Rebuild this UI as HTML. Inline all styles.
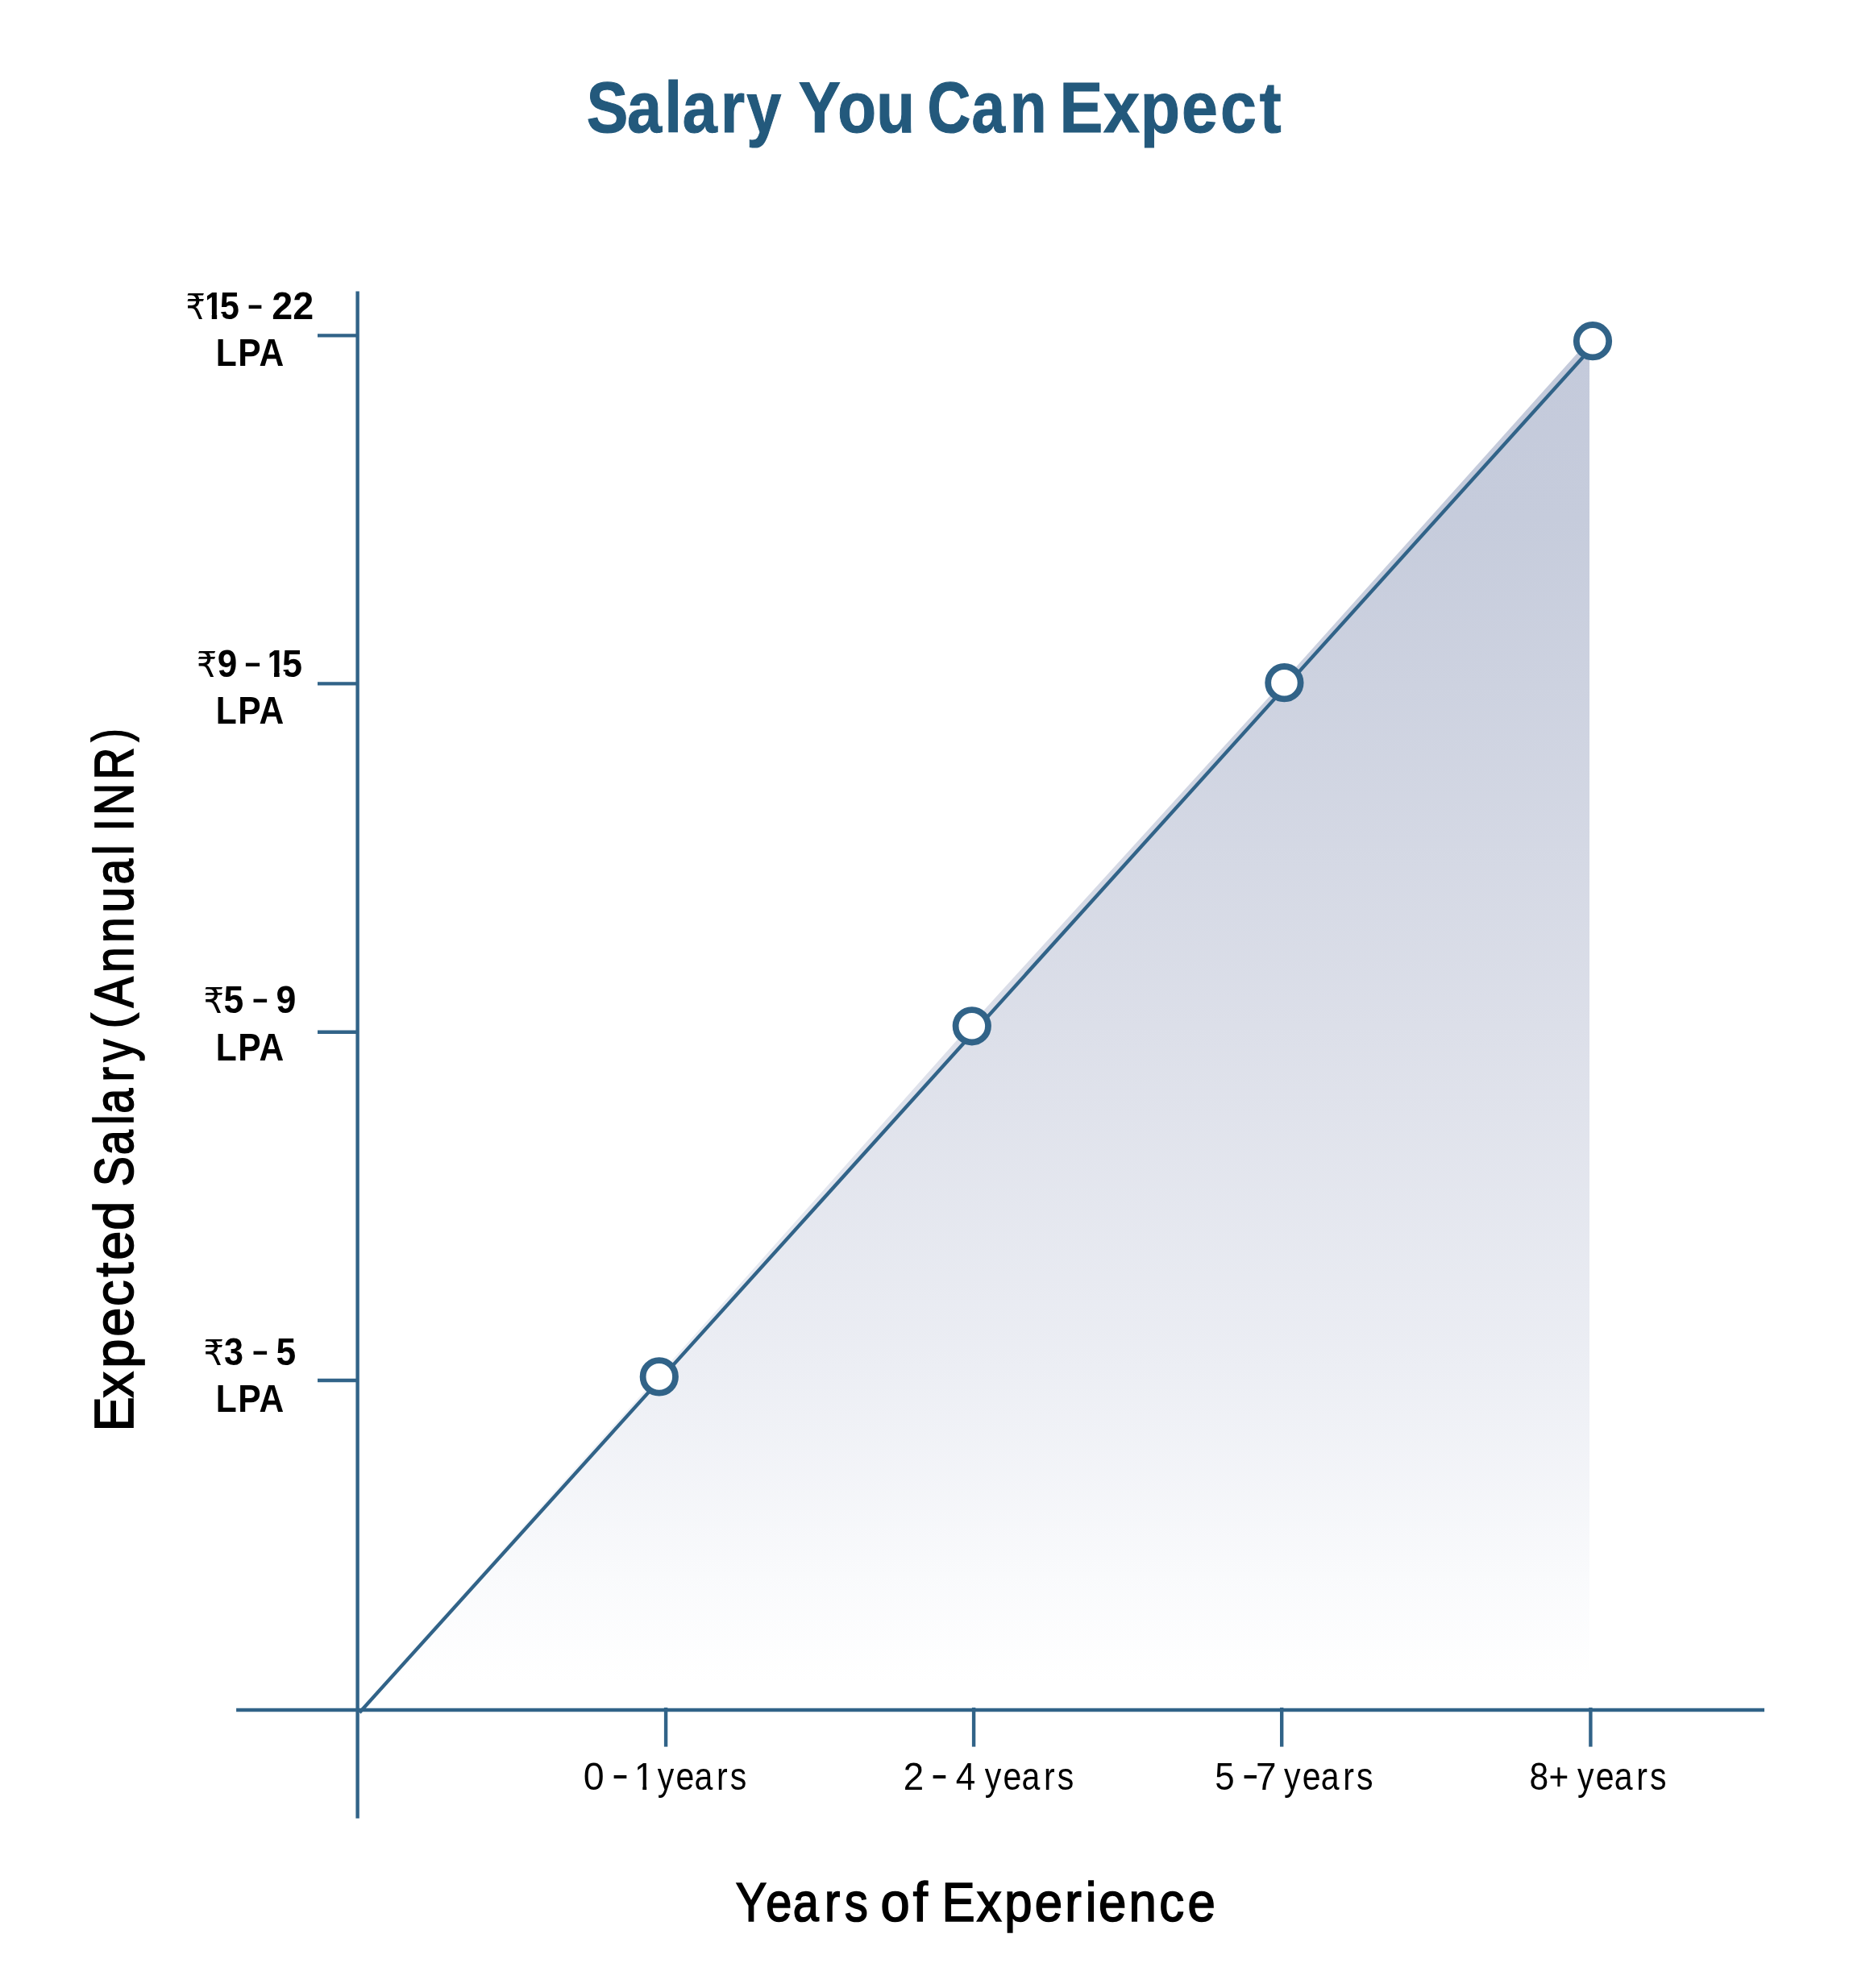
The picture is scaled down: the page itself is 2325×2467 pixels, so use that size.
<!DOCTYPE html>
<html lang="en">
<head>
<meta charset="utf-8">
<title>Salary You Can Expect</title>
<style>
  html, body { margin: 0; padding: 0; background: #ffffff; }
  body { width: 2325px; height: 2467px; overflow: hidden; }
  svg { display: block; will-change: transform; }
  text { font-family: "Liberation Sans", "DejaVu Sans", sans-serif; }
  .title { font-size: 88.6px; font-weight: 700; fill: #23597c; stroke: #23597c; stroke-width: 1.1px; }
  .ylab  { font-size: 48.7px; font-weight: 700; fill: #000000; stroke: none; stroke-width: 0.0px; }
  .rupee { font-family: "DejaVu Sans", "Liberation Sans", sans-serif; font-size: 44px; font-weight: 400; fill: #000000; }
  .ydash { font-size: 56px; font-weight: 400; fill: #000000; }
  .xdash { font-size: 52px; font-weight: 400; fill: #000000; }
  .xlab  { font-size: 49.0px; font-weight: 400; fill: #000000; }
  .axt   { font-size: 68.2px; font-weight: 400; fill: #000000; stroke: #000000; stroke-width: 1.7px; }
  .par   { font-size: 63.4px; }
  .ln    { stroke: #316388; stroke-width: 4.4; fill: none; }
</style>
</head>
<body>
<svg width="2325" height="2467" viewBox="0 0 2325 2467">
  <defs>
    <linearGradient id="areaFill" x1="0" y1="425" x2="0" y2="2122" gradientUnits="userSpaceOnUse">
      <stop offset="0" stop-color="#c4cadb"/>
      <stop offset="0.13" stop-color="#c6ccdc"/>
      <stop offset="0.25" stop-color="#cdd2e0"/>
      <stop offset="0.5" stop-color="#dcdfe9"/>
      <stop offset="0.75" stop-color="#eceef4"/>
      <stop offset="0.9" stop-color="#f9fafc"/>
      <stop offset="0.98" stop-color="#ffffff"/>
      <stop offset="1" stop-color="#ffffff"/>
    </linearGradient>
  </defs>
  <rect x="0" y="0" width="2325" height="2467" fill="#ffffff"/>

  <!-- Title -->
  <g>
    <text class="title" transform="translate(727.83 164.4) scale(0.8719 1)" x="0.00 57.64 110.82 136.27 190.48 227.55">Salary</text>
    <text class="title" transform="translate(990.81 164.4) scale(0.8834 1)" x="0.00 54.83 109.17">You</text>
    <text class="title" transform="translate(1150.54 164.4) scale(0.8408 1)" x="0.00 65.25 121.92">Can</text>
    <text class="title" transform="translate(1314.48 164.4) scale(0.9104 1)" x="0.00 59.99 110.16 166.36 219.03 272.68">Expect</text>
  </g>

  <!-- Area fill -->
  <polygon points="444.5,2122 815.6,1708.4 1202.8,1273.3 1590.4,847.2 1972,421.5 1972,2122" fill="url(#areaFill)"/>

  <!-- Axes -->
  <line class="ln" x1="443.6" y1="361.6" x2="443.6" y2="2256.6"/>
  <line class="ln" x1="293.1" y1="2122" x2="2189" y2="2122"/>

  <!-- Y ticks -->
  <line class="ln" x1="394" y1="416.4" x2="443.6" y2="416.4"/>
  <line class="ln" x1="394" y1="848.4" x2="443.6" y2="848.4"/>
  <line class="ln" x1="394" y1="1280.7" x2="443.6" y2="1280.7"/>
  <line class="ln" x1="394" y1="1713" x2="443.6" y2="1713"/>

  <!-- X ticks -->
  <line class="ln" x1="826.1" y1="2119" x2="826.1" y2="2167.6"/>
  <line class="ln" x1="1208.1" y1="2119" x2="1208.1" y2="2167.6"/>
  <line class="ln" x1="1590.2" y1="2119" x2="1590.2" y2="2167.6"/>
  <line class="ln" x1="1973.4" y1="2119" x2="1973.4" y2="2167.6"/>

  <!-- Data line -->
  <line class="ln" x1="446" y1="2125.2" x2="1982" y2="423.2"/>

  <!-- Data points -->
  <g fill="#ffffff" stroke="#316388" stroke-width="7.8">
    <circle cx="817.8" cy="1708.4" r="20.2"/>
    <circle cx="1205.8" cy="1273.3" r="20.2"/>
    <circle cx="1593.4" cy="847.2" r="20.2"/>
    <circle cx="1976" cy="423.2" r="20.2"/>
  </g>

  <!-- Y axis labels -->
  <g><text class="rupee" x="230.62" y="395.8" textLength="24.40" lengthAdjust="spacingAndGlyphs">₹</text><text class="ylab" transform="translate(252.81 395.8) scale(0.8914 1)" x="0 22.38">15</text><rect x="254.00" y="357.81" width="3.00" height="41.40" fill="#ffffff"/><rect x="256.50" y="389.23" width="6.24" height="8.17" fill="#ffffff"/><rect x="269.15" y="389.23" width="7.05" height="8.17" fill="#ffffff"/> <text class="ydash" x="305.81" y="395.8" textLength="21.53" lengthAdjust="spacingAndGlyphs">-</text> <text class="ylab" x="337.25" y="395.8" textLength="51.88" lengthAdjust="spacingAndGlyphs">22</text>
    <text class="ylab" transform="translate(267.73 454.0) scale(0.8742 1)" x="0.00 31.60 61.58">LPA</text></g>
  <g><text class="rupee" x="243.89" y="839.9" textLength="25.14" lengthAdjust="spacingAndGlyphs">₹</text><text class="ylab" x="269.68" y="839.9" textLength="24.52" lengthAdjust="spacingAndGlyphs">9</text> <text class="ydash" x="301.70" y="839.9" textLength="23.56" lengthAdjust="spacingAndGlyphs">-</text> <text class="ylab" transform="translate(329.72 839.9) scale(0.9244 1)" x="0 21.85">15</text><rect x="331.50" y="801.91" width="3.00" height="41.40" fill="#ffffff"/><rect x="334.00" y="833.33" width="6.02" height="8.17" fill="#ffffff"/><rect x="346.65" y="833.33" width="7.30" height="8.17" fill="#ffffff"/>
    <text class="ylab" transform="translate(267.73 898.1) scale(0.8742 1)" x="0.00 31.60 61.58">LPA</text></g>
  <g><text class="rupee" x="252.61" y="1257.4" textLength="25.53" lengthAdjust="spacingAndGlyphs">₹</text><text class="ylab" x="277.43" y="1257.4" textLength="24.76" lengthAdjust="spacingAndGlyphs">5</text> <text class="ydash" x="311.42" y="1257.4" textLength="22.64" lengthAdjust="spacingAndGlyphs">-</text> <text class="ylab" x="342.43" y="1257.4" textLength="24.86" lengthAdjust="spacingAndGlyphs">9</text>
    <text class="ylab" transform="translate(267.73 1316.1) scale(0.8742 1)" x="0.00 31.60 61.58">LPA</text></g>
  <g><text class="rupee" x="252.61" y="1693.5" textLength="25.53" lengthAdjust="spacingAndGlyphs">₹</text><text class="ylab" x="277.98" y="1693.5" textLength="23.96" lengthAdjust="spacingAndGlyphs">3</text> <text class="ydash" x="311.42" y="1693.5" textLength="22.64" lengthAdjust="spacingAndGlyphs">-</text> <text class="ylab" x="342.40" y="1693.5" textLength="24.67" lengthAdjust="spacingAndGlyphs">5</text>
    <text class="ylab" transform="translate(267.73 1752.1) scale(0.8742 1)" x="0.00 31.60 61.58">LPA</text></g>

  <!-- X axis labels -->
  <g><text class="xlab" x="723.71" y="2220.9" textLength="25.87" lengthAdjust="spacingAndGlyphs">0</text> <text class="xdash" x="758.69" y="2219.1" textLength="21.49" lengthAdjust="spacingAndGlyphs">-</text> <clipPath id="cp_x0c"><polygon points="791.2,2184.2 802.2,2184.2 802.2,2221.9 797.3,2221.9 797.3,2216.7 791.2,2216.7"/></clipPath><text clip-path="url(#cp_x0c)" class="xlab" x="785.88" y="2220.9" textLength="25.89" lengthAdjust="spacingAndGlyphs">1</text> <text class="xlab" transform="translate(815.73 2220.9) scale(0.8372 1)" x="0.00 27.29 54.63 87.45 107.59">years</text></g>
  <g><text class="xlab" x="1120.78" y="2220.9" textLength="25.46" lengthAdjust="spacingAndGlyphs">2</text> <text class="xdash" x="1154.81" y="2219.1" textLength="21.43" lengthAdjust="spacingAndGlyphs">-</text> <text class="xlab" x="1185.72" y="2220.9" textLength="24.50" lengthAdjust="spacingAndGlyphs">4</text> <text class="xlab" transform="translate(1221.73 2220.9) scale(0.8372 1)" x="0.00 27.29 54.63 87.45 107.59">years</text></g>
  <g><text class="xlab" x="1507.21" y="2220.9" textLength="24.42" lengthAdjust="spacingAndGlyphs">5</text> <text class="xdash" x="1540.86" y="2219.1" textLength="21.05" lengthAdjust="spacingAndGlyphs">-</text><text class="xlab" x="1558.06" y="2220.9" textLength="25.55" lengthAdjust="spacingAndGlyphs">7</text> <text class="xlab" transform="translate(1592.93 2220.9) scale(0.8372 1)" x="0.00 27.29 54.63 87.45 107.59">years</text></g>
  <g><text class="xlab" x="1897.44" y="2220.9" textLength="23.71" lengthAdjust="spacingAndGlyphs">8</text><text class="xlab" x="1921.60" y="2220.9" textLength="24.81" lengthAdjust="spacingAndGlyphs">+</text> <text class="xlab" transform="translate(1957.03 2220.9) scale(0.8372 1)" x="0.00 27.29 54.63 87.45 107.59">years</text></g>

  <!-- X axis title -->
  <g>
    <text class="axt" transform="translate(912.81 2383.9) scale(0.8457 1)" x="0.00 44.28 83.80 130.41 159.93">Years</text>
    <text class="axt" transform="translate(1092.55 2383.9) scale(0.9546 1)" x="0.00 42.06">of</text>
    <text class="axt" transform="translate(1168.62 2383.9) scale(0.9047 1)" x="0.00 47.69 85.70 127.37 168.75 196.96 214.92 256.20 298.01 337.00">Experience</text>
  </g>

  <!-- Y axis title -->
  <g transform="translate(165,1770.3) rotate(-90)">
    <text class="axt" transform="translate(-6.15 0.0) scale(0.9531 1)" x="0.00 43.99 82.56 123.47 163.17 201.14 223.25 262.09">Expected</text>
    <text class="axt" transform="translate(297.94 0.0) scale(0.8166 1)" x="0.00 47.81 93.69 110.87 159.07 189.71">Salary</text>
    <text class="axt par" x="494.17" y="-5.8" textLength="18.99" lengthAdjust="spacingAndGlyphs">(</text><text class="axt" transform="translate(520.11 0.0) scale(0.8350 1)" x="0.00 51.81 96.18 140.83 182.92 226.70">Annual</text>
    <text class="axt" transform="translate(738.82 0.0) scale(0.8111 1)" x="0.00 24.29 78.94">INR</text><text class="axt par" x="850.15" y="-5.8" textLength="15.97" lengthAdjust="spacingAndGlyphs">)</text>
  </g>
</svg>
</body>
</html>
